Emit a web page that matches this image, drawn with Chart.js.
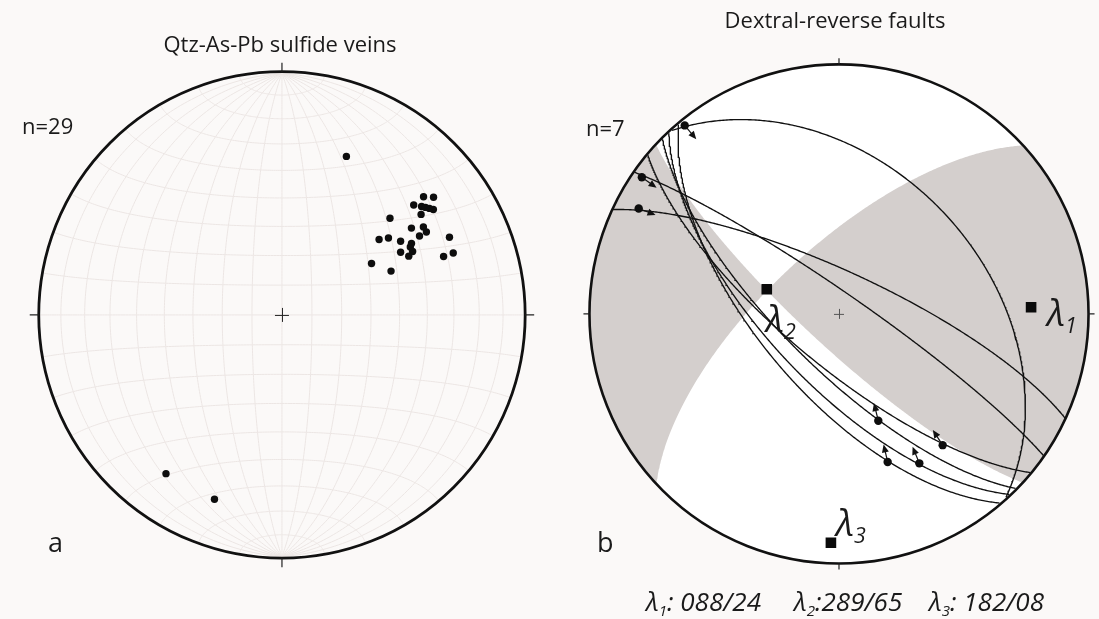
<!DOCTYPE html>
<html>
<head>
<meta charset="utf-8">
<script src="https://cdn.jsdelivr.net/npm/chart.js@4.4.0/dist/chart.umd.min.js"></script>
<style>
html,body{margin:0;padding:0;background:#fbf9f8;width:1099px;height:619px;overflow:hidden;font-family:"Open Sans","Noto Sans",sans-serif;}
canvas{position:absolute;left:0;top:0;}
.t{position:absolute;color:#1a1a1a;white-space:nowrap;line-height:1;}
.c{transform:translateX(-50%);}
.it{font-style:italic;}
.t sub{font-size:58%;vertical-align:-0.32em;line-height:0;}
</style>
</head>
<body>
<canvas id="cA" width="1099" height="619"></canvas>
<canvas id="cB" width="1099" height="619"></canvas>

<div class="t c" id="titleA" style="left:280px;top:32px;font-size:22px;"></div>
<div class="t" style="left:22px;top:114px;font-size:22px;">n=29</div>
<div class="t" style="left:48px;top:528px;font-size:27px;">a</div>

<div class="t c" id="titleB" style="left:835px;top:8px;font-size:22px;"></div>
<div class="t" style="left:586px;top:116px;font-size:22px;">n=7</div>
<div class="t" style="left:597px;top:528px;font-size:27px;">b</div>

<div class="t it" style="left:1047px;top:293px;font-size:37px;">λ<sub>1</sub></div>
<div class="t it" style="left:766px;top:299px;font-size:37px;">λ<sub>2</sub></div>
<div class="t it" style="left:836px;top:503px;font-size:37px;">λ<sub>3</sub></div>

<div class="t it" style="left:646px;top:588px;font-size:26px;">λ<sub>1</sub>: 088/24</div>
<div class="t it" style="left:794px;top:588px;font-size:26px;">λ<sub>2</sub>:289/65</div>
<div class="t it" style="left:929px;top:588px;font-size:26px;">λ<sub>3</sub>: 182/08</div>

<script>
// ---------------- DATA ----------------
const titleA = "Qtz-As-Pb sulfide veins";
const titleB = "Dextral-reverse faults";

// Poles to Qtz-As-Pb sulfide veins (trend / plunge, degrees)
const veinTrend  = [50, 52, 50, 52, 55, 54, 54, 48, 56, 58, 60, 60, 52, 54, 58, 65, 62, 64, 62, 65, 70, 70, 60, 68, 22, 216, 200, 53, 61];
const veinPlunge = [25, 22, 30, 28, 25, 30, 26, 40, 36, 32, 32, 35, 48, 45, 42, 25, 40, 40, 44, 42, 26, 30, 55, 50, 30, 20, 20, 27, 39];

// Dextral-reverse fault planes (dip direction / dip)
const faultDipDir = [48, 35, 25, 220, 225, 227, 230];
const faultDip    = [41, 83, 76, 73, 72, 67, 64];

// Slickenlines on the faults (trend / plunge) and sense-of-slip arrow azimuth
const slickTrend  = [321, 305, 298, 142, 160, 152, 162];
const slickPlunge = [2, 4, 10, 33, 52, 32, 37];
const slipArrowAz = [140, 125, 111, 327, 346, 338, 347];

// Principal stress axes
const stressNames  = ["λ1", "λ2", "λ3"];
const stressTrend  = [88, 289, 182];
const stressPlunge = [24, 65, 8];

// Planes bounding the shaded dihedra (dip direction / dip)
const dihedraDipDir = [223, 317];
const dihedraDip    = [79, 68];

document.getElementById('titleA').textContent = titleA;
document.getElementById('titleB').textContent = titleB;

// ---------------- PROJECTION (lower hemisphere, equal area) ----------------
const D2R = Math.PI / 180;
const dot = (a, b) => a[0]*b[0] + a[1]*b[1] + a[2]*b[2];
const cross = (a, b) => [a[1]*b[2]-a[2]*b[1], a[2]*b[0]-a[0]*b[2], a[0]*b[1]-a[1]*b[0]];
function lineVec(t, p) { const cp = Math.cos(p*D2R); return [cp*Math.sin(t*D2R), cp*Math.cos(t*D2R), Math.sin(p*D2R)]; }
function project(v) {
  let x = v[0], y = v[1], z = v[2];
  if (z < 0) { x = -x; y = -y; z = -z; }
  const k = 1 / Math.sqrt(1 + z);
  return {x: x*k, y: y*k};
}
function planeBasis(dd, dip) {
  const s = (dd - 90) * D2R, c = Math.cos(dip*D2R);
  return {S: [Math.sin(s), Math.cos(s), 0], Dv: [c*Math.sin(dd*D2R), c*Math.cos(dd*D2R), Math.sin(dip*D2R)]};
}
function planePole(dd, dip) { return lineVec(dd + 180, 90 - dip); }
function arcOfPlane(dd, dip, u0, u1) {
  const b = planeBasis(dd, dip);
  const n = Math.max(2, Math.ceil(Math.abs(u1 - u0) / 0.5));
  const out = [];
  for (let i = 0; i <= n; i++) {
    const u = (u0 + (u1 - u0) * i / n) * D2R, c = Math.cos(u), s = Math.sin(u);
    out.push(project([c*b.S[0]+s*b.Dv[0], c*b.S[1]+s*b.Dv[1], c*b.S[2]+s*b.Dv[2]]));
  }
  return out;
}
function primitiveArc(t0, t1) {
  const n = Math.max(2, Math.ceil(Math.abs(t1 - t0)));
  const out = [];
  for (let i = 0; i <= n; i++) { const t = (t0 + (t1 - t0) * i / n) * D2R; out.push({x: Math.sin(t), y: Math.cos(t)}); }
  return out;
}
function uOnPlane(dd, dip, v) { const b = planeBasis(dd, dip); return Math.atan2(dot(v, b.Dv), dot(v, b.S)) / D2R; }

// ---------------- LAYOUT ----------------
const LEFT = {cx: 280, cy: 315, R: 245};
const RIGHT = {cx: 843, cy: 314, R: 253};
const W = 1099, H = 619;
function scalesFor(g) {
  return {
    x: {type: 'linear', display: false, min: -g.cx / g.R, max: (W - g.cx) / g.R},
    y: {type: 'linear', display: false, min: -(H - g.cy) / g.R, max: g.cy / g.R}
  };
}

function drawFrame(chart, opt) {
  const {ctx, scales: {x, y}} = chart;
  const cx = x.getPixelForValue(0), cy = y.getPixelForValue(0);
  const R = x.getPixelForValue(1) - cx;
  ctx.save();
  ctx.strokeStyle = '#111';
  ctx.lineWidth = opt.primWidth;
  ctx.beginPath(); ctx.arc(cx, cy, R, 0, Math.PI*2); ctx.stroke();
  ctx.lineWidth = 1.2;
  ctx.strokeStyle = '#222';
  ctx.beginPath();
  ctx.moveTo(cx, cy - R); ctx.lineTo(cx, cy - R - opt.tick);
  ctx.moveTo(cx, cy + R); ctx.lineTo(cx, cy + R + opt.tick);
  ctx.moveTo(cx - R, cy); ctx.lineTo(cx - R - opt.tick, cy);
  ctx.moveTo(cx + R, cy); ctx.lineTo(cx + R + opt.tick, cy);
  ctx.stroke();
  ctx.strokeStyle = opt.crossColor; ctx.lineWidth = 1;
  ctx.beginPath();
  ctx.moveTo(cx - opt.cross, cy + 0.5); ctx.lineTo(cx + opt.cross, cy + 0.5);
  ctx.moveTo(cx + 0.5, cy - opt.cross); ctx.lineTo(cx + 0.5, cy + opt.cross);
  ctx.stroke();
  ctx.restore();
}

const netPlugin = {
  id: 'schmidtNet',
  beforeDatasetsDraw(chart) {
    const {ctx, scales: {x, y}} = chart;
    const P = p => [x.getPixelForValue(p.x), y.getPixelForValue(p.y)];
    ctx.save();
    ctx.strokeStyle = '#ece6e4';
    ctx.lineWidth = 1;
    for (let phi = 10; phi < 180; phi += 10) {
      ctx.beginPath();
      for (let u = 0; u <= 180; u += 1) {
        const s = Math.sin(u*D2R);
        const q = P(project([s*Math.cos(phi*D2R), Math.cos(u*D2R), s*Math.sin(phi*D2R)]));
        if (u === 0) ctx.moveTo(q[0], q[1]); else ctx.lineTo(q[0], q[1]);
      }
      ctx.stroke();
    }
    for (let a = 10; a < 180; a += 10) {
      ctx.beginPath();
      for (let psi = 0; psi <= 180; psi += 1) {
        const sa = Math.sin(a*D2R);
        const q = P(project([sa*Math.cos(psi*D2R), Math.cos(a*D2R), sa*Math.sin(psi*D2R)]));
        if (psi === 0) ctx.moveTo(q[0], q[1]); else ctx.lineTo(q[0], q[1]);
      }
      ctx.stroke();
    }
    ctx.restore();
  },
  afterDatasetsDraw(chart) { drawFrame(chart, {primWidth: 2.8, tick: 9, cross: 7, crossColor: '#222'}); }
};

new Chart(document.getElementById('cA'), {
  type: 'scatter',
  data: {
    datasets: [{
      label: 'Poles to veins',
      data: veinTrend.map((t, i) => project(lineVec(t, veinPlunge[i]))),
      backgroundColor: '#0d0d0d', borderColor: '#0d0d0d', pointRadius: 3.7, borderWidth: 0
    }]
  },
  options: {
    responsive: false, animation: false, events: [],
    layout: {padding: 0},
    plugins: {legend: {display: false}, tooltip: {enabled: false}, title: {display: false}},
    scales: scalesFor(LEFT)
  },
  plugins: [netPlugin]
});

// ---------------- RIGHT NET ----------------
const nA = planePole(dihedraDipDir[0], dihedraDip[0]);
const nB = planePole(dihedraDipDir[1], dihedraDip[1]);
let inter = cross(nA, nB); if (inter[2] < 0) inter = inter.map(v => -v);
const uA = uOnPlane(dihedraDipDir[0], dihedraDip[0], inter);
const uB = uOnPlane(dihedraDipDir[1], dihedraDip[1], inter);
const ddA = dihedraDipDir[0], ddB = dihedraDipDir[1];
const shadeWest = [].concat(
  arcOfPlane(ddA, dihedraDip[0], 180, uA),
  arcOfPlane(ddB, dihedraDip[1], uB, 0),
  primitiveArc(ddB - 90, ddA + 90)
);
const shadeEast = [].concat(
  arcOfPlane(ddB, dihedraDip[1], 180, uB),
  arcOfPlane(ddA, dihedraDip[0], uA, 0),
  primitiveArc(ddA - 90, ddB + 90 - 360)
);

const rightDatasets = [];
[shadeWest, shadeEast].forEach((poly, i) => rightDatasets.push({
  type: 'line', label: 'dihedron ' + (i+1), data: poly, fill: 'shape',
  backgroundColor: '#d4cfcd', borderColor: 'rgba(0,0,0,0)', borderWidth: 0,
  pointRadius: 0, tension: 0, order: 10
}));
faultDipDir.forEach((dd, i) => rightDatasets.push({
  type: 'line', label: 'fault ' + (i+1), data: arcOfPlane(dd, faultDip[i], 0, 180), fill: false,
  borderColor: '#111111', borderWidth: 1.35, pointRadius: 0, tension: 0, order: 5
}));
rightDatasets.push({
  type: 'scatter', label: 'slickenlines',
  data: slickTrend.map((t, i) => project(lineVec(t, slickPlunge[i]))),
  backgroundColor: '#0d0d0d', borderColor: '#0d0d0d', pointRadius: 4.2, borderWidth: 0, order: 2
});
rightDatasets.push({
  type: 'scatter', label: 'stress axes',
  data: stressTrend.map((t, i) => project(lineVec(t, stressPlunge[i]))),
  pointStyle: 'rect', backgroundColor: '#0a0a0a', borderColor: '#0a0a0a', pointRadius: 7.5, borderWidth: 0, order: 1
});

const rightPlugin = {
  id: 'rightFrame',
  beforeDatasetsDraw(chart) {
    const {ctx, scales: {x, y}} = chart;
    const cx = x.getPixelForValue(0), cy = y.getPixelForValue(0);
    const R = x.getPixelForValue(1) - cx;
    ctx.save(); ctx.fillStyle = '#ffffff';
    ctx.beginPath(); ctx.arc(cx, cy, R, 0, Math.PI*2); ctx.fill(); ctx.restore();
  },
  afterDatasetsDraw(chart) {
    const {ctx, scales: {x, y}} = chart;
    drawFrame(chart, {primWidth: 2.6, tick: 6, cross: 5, crossColor: '#555'});
    ctx.save();
    ctx.strokeStyle = '#111'; ctx.fillStyle = '#111'; ctx.lineWidth = 1.2;
    slickTrend.forEach((t, i) => {
      const p = project(lineVec(t, slickPlunge[i]));
      const px = x.getPixelForValue(p.x), py = y.getPixelForValue(p.y);
      const a = slipArrowAz[i] * D2R, dx = Math.sin(a), dy = -Math.cos(a);
      const L = 18, hl = 8, hw = 3.5;
      const ex = px + dx*L, ey = py + dy*L;
      ctx.beginPath(); ctx.moveTo(px, py); ctx.lineTo(ex - dx*hl*0.6, ey - dy*hl*0.6); ctx.stroke();
      ctx.beginPath();
      ctx.moveTo(ex, ey);
      ctx.lineTo(ex - dx*hl - dy*hw, ey - dy*hl + dx*hw);
      ctx.lineTo(ex - dx*hl + dy*hw, ey - dy*hl - dx*hw);
      ctx.closePath(); ctx.fill();
    });
    ctx.restore();
  }
};

new Chart(document.getElementById('cB'), {
  type: 'scatter',
  data: {datasets: rightDatasets},
  options: {
    responsive: false, animation: false, events: [],
    layout: {padding: 0},
    plugins: {legend: {display: false}, tooltip: {enabled: false}, title: {display: false}, filler: {propagate: false}},
    scales: scalesFor(RIGHT)
  },
  plugins: [rightPlugin]
});
</script>
</body>
</html>
